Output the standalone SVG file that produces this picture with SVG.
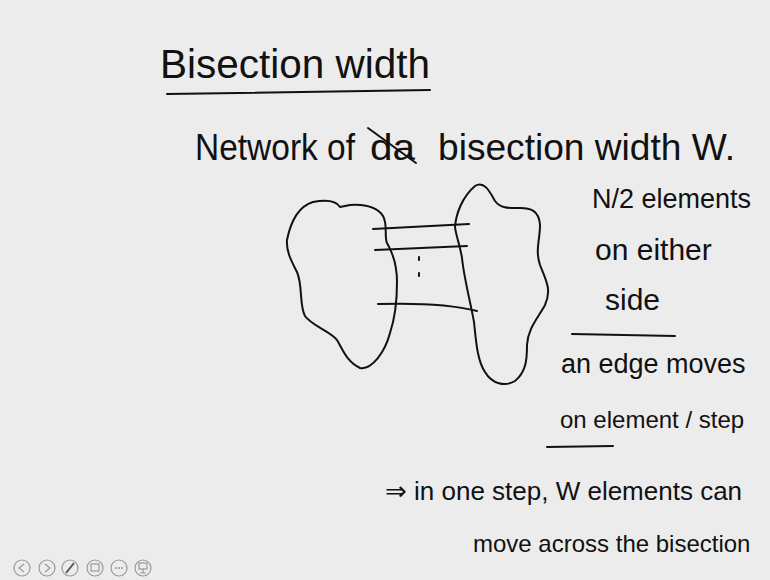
<svg xmlns="http://www.w3.org/2000/svg" width="770" height="580" viewBox="0 0 770 580">
<style>
.hw{font-family:"Liberation Sans","DejaVu Sans",sans-serif;fill:#111;}
.ink{fill:none;stroke:#111;stroke-width:2;stroke-linecap:round;stroke-linejoin:round;}
.tb{fill:none;stroke:#9a9a9a;stroke-width:1.2;}
.tbf{fill:#9a9a9a;}
</style>
<rect x="0" y="0" width="770" height="580" fill="#ececec"/>

<g id="title">
<text class="hw" x="160" y="78" font-size="40" textLength="270" lengthAdjust="spacingAndGlyphs">Bisection width</text>
<path class="ink" d="M167,94 Q300,92 430,90"/>
</g>

<g id="statement">
<text class="hw" x="195" y="160" font-size="36" textLength="160" lengthAdjust="spacingAndGlyphs">Network of</text>
<text class="hw" x="370" y="160" font-size="36" textLength="45" lengthAdjust="spacingAndGlyphs">da</text>
<path class="ink" d="M368,128 L416,163"/>
<text class="hw" x="438" y="160" font-size="36" textLength="297" lengthAdjust="spacingAndGlyphs">bisection width W.</text>
</g>

<g id="left-half">
<path class="ink" d="M340,207 C337,202 330,199 313,202 C300,206 291,220 287,240 C286,252 292,262 297,272 C303,286 299,305 305,316 C312,326 330,331 337,340 C343,350 347,362 360,368 C372,370 385,352 390,333 C395,318 397,300 397,282 C397,268 394,255 387,243 C384,236 388,225 383,216 C377,207 366,204 350,205 Z"/>
</g>

<g id="right-half">
<path class="ink" d="M455,227 C456,214 462,197 475,186 C484,180 490,192 495,201 C501,209 510,208 520,208 C530,208 539,210 540,225 C540,240 535,250 540,265 C546,280 552,290 545,305 C538,318 528,328 527,345 C527,360 526,372 515,381 C505,387 492,384 485,372 C477,360 476,340 474,322 C470,300 464,278 462,258 C460,245 456,236 455,227 Z"/>
</g>

<g id="connectors">
<path class="ink" d="M373,229 L469,224"/>
<path class="ink" d="M375,250 L467,246"/>
<path class="ink" d="M378,304 C410,303 450,304 477,311"/>
<path class="ink" d="M419,257 L419,260"/>
<path class="ink" d="M419,273 L419,276"/>
</g>

<g id="notes">
<text class="hw" x="592" y="208" font-size="27">N/2 elements</text>
<text class="hw" x="595" y="260" font-size="30">on either</text>
<text class="hw" x="605" y="310" font-size="30">side</text>
<path class="ink" d="M572,334 L675,336"/>
<text class="hw" x="561" y="373" font-size="27">an edge moves</text>
<text class="hw" x="560" y="428" font-size="24">on element / step</text>
<path class="ink" d="M547,447 L613,446"/>
</g>

<g id="conclusion">
<text class="hw" x="385" y="500" font-size="26">⇒ in one step, W elements can</text>
<text class="hw" x="473" y="552" font-size="24">move across the bisection</text>
</g>

<g id="toolbar">
<circle class="tb" cx="22" cy="568" r="8"/>
<path class="tb" d="M24,564 L19,568 L24,572"/>
<circle class="tb" cx="47" cy="568" r="8"/>
<path class="tb" d="M45,564 L50,568 L45,572"/>
<circle class="tb" cx="70" cy="568" r="8"/>
<path d="M66,573 L74,563" stroke="#555" stroke-width="2" fill="none"/>
<circle class="tb" cx="95" cy="568" r="8"/>
<rect class="tb" x="91" y="564" width="8" height="7"/>
<circle class="tb" cx="119" cy="568" r="8"/>
<circle class="tbf" cx="116" cy="568" r="1"/><circle class="tbf" cx="119" cy="568" r="1"/><circle class="tbf" cx="122" cy="568" r="1"/>
<circle class="tb" cx="143" cy="568" r="8"/>
<rect class="tb" x="139" y="563" width="8" height="6"/>
<path class="tb" d="M143,569 L143,573 M140,573 L146,573"/>
</g>
</svg>
